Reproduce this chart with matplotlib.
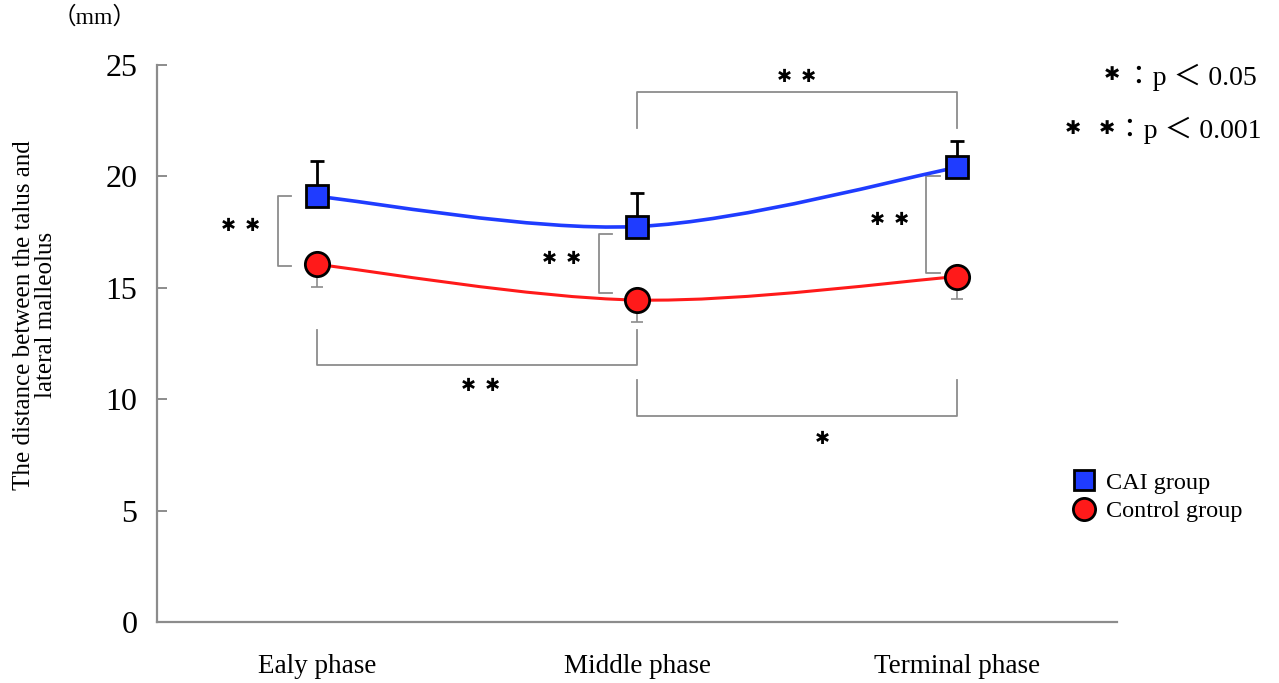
import matplotlib
matplotlib.use("Agg")
import matplotlib.pyplot as plt
from matplotlib.path import Path
from matplotlib.patches import PathPatch
from matplotlib.lines import Line2D

plt.rcParams['font.family'] = ['Liberation Serif', 'DejaVu Sans', 'Noto Sans CJK JP']

# === Данные ===
phases = ["Ealy phase", "Middle phase", "Terminal phase"]
cai_mean = [19.1, 17.75, 20.4]
cai_sd = [1.6, 1.5, 1.2]
ctrl_mean = [16.05, 14.45, 15.5]
ctrl_sd = [1.0, 1.0, 1.0]
yticks = [0, 5, 10, 15, 20, 25]

x_pos = [0.5, 1.5, 2.5]

GRAY = "#8c8c8c"
BLUE = "#1f3cff"
RED = "#ff1a1a"
STAR = "\u2731"


def smooth_path(xs, ys):
    # сглаженная линия как в Excel: кривые Безье по точкам
    pts = list(zip(xs, ys))
    n = len(pts)
    verts = [pts[0]]
    codes = [Path.MOVETO]
    for i in range(n - 1):
        p0 = pts[i - 1] if i > 0 else pts[i]
        p1 = pts[i]
        p2 = pts[i + 1]
        p3 = pts[i + 2] if i + 2 < n else pts[i + 1]
        c1 = (p1[0] + (p2[0] - p0[0]) / 6, p1[1] + (p2[1] - p0[1]) / 6)
        c2 = (p2[0] - (p3[0] - p1[0]) / 6, p2[1] - (p3[1] - p1[1]) / 6)
        verts += [c1, c2, p2]
        codes += [Path.CURVE4] * 3
    return Path(verts, codes)


fig = plt.figure(figsize=(12.79, 6.83), dpi=100)
ax = fig.add_axes([157 / 1279, 61 / 683, 960 / 1279, 557 / 683])
ax.set_xlim(0, 3)
ax.set_ylim(0, 25)

# линии
ax.add_patch(PathPatch(smooth_path(x_pos, cai_mean), fill=False,
                       edgecolor=BLUE, lw=2.6, zorder=3))
ax.add_patch(PathPatch(smooth_path(x_pos, ctrl_mean), fill=False,
                       edgecolor=RED, lw=2.2, zorder=3))

# планки погрешностей
ax.errorbar(x_pos, cai_mean, yerr=[[0] * 3, cai_sd], fmt='none',
            ecolor='black', elinewidth=2, capsize=5, capthick=2, zorder=2)
ax.errorbar(x_pos, ctrl_mean, yerr=[ctrl_sd, [0] * 3], fmt='none',
            ecolor=GRAY, elinewidth=1.2, capsize=4, capthick=1.2, zorder=2)

# маркеры
ax.plot(x_pos, cai_mean, 's', ms=16.5, mfc=BLUE, mec='black', mew=2, zorder=5)
ax.plot(x_pos, ctrl_mean, 'o', ms=17.5, mfc=RED, mec='black', mew=2, zorder=5)


# скобки значимости
def vbracket(x, y1, y2, tick):
    ax.plot([x + tick, x, x, x + tick], [y1, y1, y2, y2], color=GRAY, lw=1.3, zorder=1)


def hbracket(x1, x2, y, h):
    ax.plot([x1, x1, x2, x2], [y + h, y, y, y + h], color=GRAY, lw=1.3, zorder=1)


vbracket(0.378, 19.12, 15.98, 0.04)
vbracket(1.381, 17.41, 14.77, 0.04)
vbracket(2.403, 20.02, 15.66, 0.045)
hbracket(1.5, 2.5, 23.79, -1.6)
hbracket(0.5, 1.5, 11.53, 1.57)
hbracket(1.5, 2.5, 9.25, 1.6)

two = STAR + "  " + STAR
star_kw = dict(ha='center', va='center', fontsize=13, zorder=6)
ax.text(0.26, 17.77, two, **star_kw)
ax.text(1.266, 16.25, two, **star_kw)
ax.text(2.29, 18.04, two, **star_kw)
ax.text(2.0, 24.42, two, **star_kw)
ax.text(1.01, 10.59, two, **star_kw)
ax.text(2.08, 8.17, STAR, **star_kw)

# оси
for s in ['top', 'right']:
    ax.spines[s].set_visible(False)
for s in ['left', 'bottom']:
    ax.spines[s].set_color(GRAY)
    ax.spines[s].set_linewidth(1.6)
ax.set_yticks(yticks)
ax.tick_params(axis='y', direction='in', length=7, width=1.4, color=GRAY,
               labelsize=23, pad=14)
ax.set_xticks(x_pos)
ax.set_xticklabels(phases)
ax.tick_params(axis='x', length=0, labelsize=19.5, pad=23)

fig.text(35 / 1279, 1 - 315 / 683, "The distance between the talus and\nlateral malleolus",
         rotation=90, ha='center', va='center', fontsize=18, linespacing=1.0,
         multialignment='center')
fig.text(95 / 1279, 1 - 18 / 683, "（mm）", ha='center', va='center', fontsize=17,
         family=['Liberation Serif', 'Noto Sans CJK JP'])

# пояснение звёздочек
fig.text(1257 / 1279, 1 - 77 / 683, "：p ＜ 0.05", ha='right', va='center', fontsize=20)
fig.text(1262 / 1279, 1 - 130 / 683, "：p ＜ 0.001", ha='right', va='center', fontsize=20)
fig.text(1112 / 1279, 1 - 76 / 683, STAR, ha='center', va='center', fontsize=14)
fig.text(1073 / 1279, 1 - 129 / 683, STAR, ha='center', va='center', fontsize=14)
fig.text(1107 / 1279, 1 - 129 / 683, STAR, ha='center', va='center', fontsize=14)

handles = [
    Line2D([], [], ls='none', marker='s', ms=15, mfc=BLUE, mec='black', mew=2),
    Line2D([], [], ls='none', marker='o', ms=16, mfc=RED, mec='black', mew=2),
]
fig.legend(handles, ["CAI group", "Control group"], loc='center left',
           bbox_to_anchor=(1060 / 1279, 1 - 497 / 683), frameon=False,
           fontsize=17.5, handlelength=1.0, handletextpad=0.4, labelspacing=0.25,
           borderpad=0)

fig.savefig("out.png", dpi=100)
